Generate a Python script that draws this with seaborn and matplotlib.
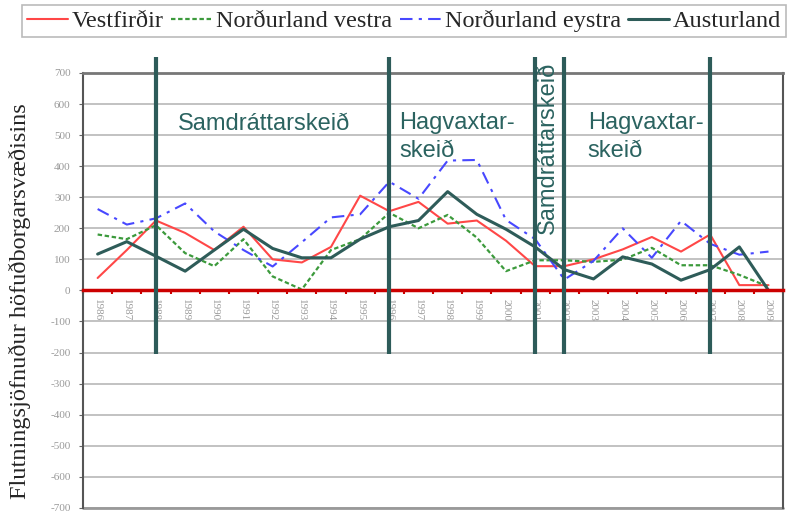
import numpy as np
import pandas as pd
import matplotlib
matplotlib.use('Agg')
import matplotlib.pyplot as plt
import seaborn as sns

# --- Data ---
years = list(range(1986, 2010))
vestfirdir = [40, 130, 225, 185, 130, 205, 100, 90, 140, 305, 255, 285,
              215, 225, 160, 78, 78, 100, 132, 172, 125, 180, 17, 17]
nordurland_vestra = [180, 165, 210, 120, 78, 165, 45, 3, 130, 165, 250, 200,
                     243, 170, 62, 97, 97, 92, 99, 137, 81, 81, 50, 12]
nordurland_eystra = [262, 212, 232, 280, 190, 130, 77, 155, 235, 245, 350, 295,
                     418, 420, 227, 165, 35, 95, 200, 105, 224, 150, 115, 125]
austurland = [117, 157, 110, 62, 130, 197, 135, 105, 105, 165, 205, 225,
              318, 245, 197, 140, 67, 37, 108, 85, 33, 67, 140, 0]
series_names = ['Vestfirðir', 'Norðurland vestra', 'Norðurland eystra', 'Austurland']
period_years = [1988, 1996, 2001, 2002, 2007]
y_ticks = list(range(-700, 701, 100))

df = pd.DataFrame({'year': years, 'Vestfirðir': vestfirdir,
                   'Norðurland vestra': nordurland_vestra,
                   'Norðurland eystra': nordurland_eystra,
                   'Austurland': austurland})
df['pos'] = np.arange(len(years))

sns.set_style('white')
plt.rcParams['font.family'] = ['Liberation Serif', 'DejaVu Serif']

fig = plt.figure(figsize=(7.91, 5.14), dpi=100)
ax = fig.add_axes([0.105, 0.012, 0.885, 0.846])

styles = {
    'Vestfirðir': dict(color='#ff4747', lw=1.5, ls='-'),
    'Norðurland vestra': dict(color='#3c9a3c', lw=1.6, ls=(0, (2, 1.2))),
    'Norðurland eystra': dict(color='#4848ff', lw=1.5, ls=(0, (6, 3, 1.5, 3))),
    'Austurland': dict(color='#2e5c59', lw=2.2, ls='-'),
}
for name in series_names:
    sns.lineplot(data=df, x='pos', y=name, ax=ax, label=name, **styles[name])

# --- Axes styling ---
ax.set_xlim(-0.5, len(years) - 0.5)
ax.set_ylim(-700, 700)
ax.set_yticks(y_ticks)
ax.set_yticklabels([str(v) for v in y_ticks])
for v in y_ticks:
    ax.axhline(v, color='#b8b8b8', lw=1.2, zorder=0)
ax.tick_params(axis='y', length=3, color='#666', labelcolor='#999',
               labelsize=8, pad=6, left=True)

ax.spines['bottom'].set_position(('data', 0))
ax.spines['bottom'].set_color('#cc0000')
ax.spines['bottom'].set_linewidth(2.5)
ax.spines['bottom'].set_zorder(3)
ax.spines['top'].set_color('#777')
ax.spines['top'].set_linewidth(2)
ax.spines['left'].set_color('#555')
ax.spines['left'].set_linewidth(1.5)
ax.spines['right'].set_color('#555')
ax.spines['right'].set_linewidth(1.5)
ax.axhline(-700, color='#999', lw=2, clip_on=False)

ax.set_xticks(df['pos'])
ax.set_xticklabels([str(y) for y in years], rotation=270)
ax.set_xticks(np.arange(-0.5, len(years), 1), minor=True)
ax.tick_params(axis='x', which='major', length=0, pad=6, labelsize=8,
               labelcolor='#9a9a9a')
ax.tick_params(axis='x', which='minor', length=3, width=1.5, color='#cc0000',
               direction='out', bottom=True)
ax.set_xlabel('')
ax.set_ylabel('Flutningsjöfnuður höfuðborgarsvæðisins', fontsize=17.5)
ax.yaxis.set_label_coords(-0.075, 0.475)

# --- Period markers ---
for yr in period_years:
    ax.vlines(years.index(yr), -205, 750, color='#2d5b59', lw=3,
              clip_on=False, zorder=5)

txt = dict(color='#2b6360', fontsize=17, family=['Liberation Sans', 'DejaVu Sans'])
ax.text(2.75, 536, 'Samdráttarskeið', ha='left', va='center', **txt)
ax.text(10.35, 494, 'Hagvaxtar-\nskeið', ha='left', va='center',
        linespacing=1.3, **txt)
ax.text(16.8, 494, 'Hagvaxtar-\nskeið', ha='left', va='center',
        linespacing=1.3, **txt)
ax.text(15.45, 460, 'Samdráttarskeið', ha='center', va='center', rotation=90, **txt)

# --- Legend ---
handles, labels = ax.get_legend_handles_labels()
ax.get_legend().remove()
leg = fig.legend(handles, labels, loc='upper center', bbox_to_anchor=(0.511, 0.99),
                 ncol=4, fontsize=17.5, frameon=True, fancybox=False,
                 handlelength=1.7, handletextpad=0.15, columnspacing=0.3,
                 borderpad=0.2, borderaxespad=0, edgecolor='#aaa')
leg.get_frame().set_linewidth(1.2)

plt.savefig('out.png', dpi=100)
